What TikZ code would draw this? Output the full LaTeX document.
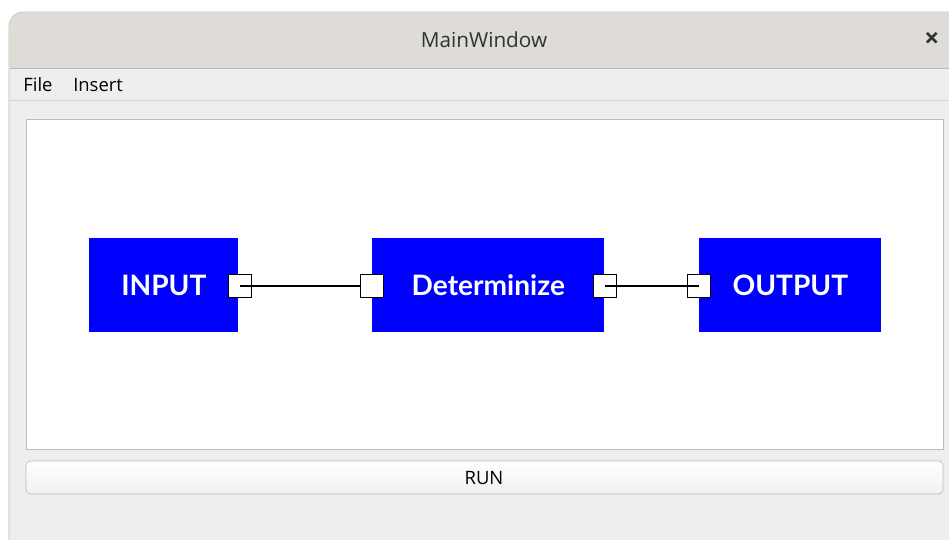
\documentclass[tikz,border=0pt]{standalone}
\usepackage{fontspec}
\setmainfont{Open Sans}
\newfontfamily\blockfont{Lato}
\usetikzlibrary{positioning}

\definecolor{titlegray}{HTML}{DFDBD7}
\definecolor{framegray}{HTML}{BDB9B5}
\definecolor{bodygray}{HTML}{EEEEEE}
\definecolor{linegray}{HTML}{D3D3D3}
\definecolor{canvasline}{HTML}{BBBBBB}
\definecolor{blockblue}{HTML}{0000FF}
\definecolor{textgray}{HTML}{2E3436}

\begin{document}
\begin{tikzpicture} [
  x=0.02cm, y=-0.02cm,
  block/.style={fill=blockblue,text=white,font=\blockfont\fontsize{16}{18}\selectfont\bfseries,
    minimum height=94*0.02cm,inner sep=0},
  port/.style={draw=black,fill=white,line width=0.8pt,minimum size=23*0.02cm,inner sep=0},
  menuitem/.style={font=\fontsize{10.5}{12}\selectfont,text=black,inner sep=0}
  ]
  \path[use as bounding box,clip] (0,0) rectangle (949,540);
  \fill[white] (0,0) rectangle (949,540);

  % window
  \draw[framegray,fill=bodygray,rounded corners=8pt] (9,600) -- (9,12) -- (1000,12) -- (1000,600);
  \begin{scope}
    \clip[rounded corners=8pt] (9.5,600) -- (9.5,12.5) -- (1000,12.5) -- (1000,600);
    \fill[titlegray] (9,12) rectangle (949,68);
  \end{scope}
  \draw[framegray] (9.5,68) -- (949,68);
  \draw[linegray] (9.5,100) -- (949,100);

  \node (title) [font=\fontsize{11.8}{13}\selectfont,text=textgray] at (484,40) {MainWindow};
  \node (close) [font=\fontsize{15}{16}\selectfont\bfseries,text=textgray] at (932,40) {×};
  \node (file) [menuitem,anchor=west] at (23,85) {File};
  \node (insert) [menuitem,right=20*0.02cm of file] {Insert};

  % canvas
  \node (canvas) [draw=canvasline,fill=white,minimum width=917*0.02cm,minimum height=330*0.02cm,
    inner sep=0,anchor=north west] at (26,119) {};

  % blocks
  \node (input) [block,minimum width=149*0.02cm,anchor=north west] at (89,238) {INPUT};
  \node (det) [block,minimum width=232*0.02cm,anchor=north west] at (372,238) {Determinize};
  \node (output) [block,minimum width=182*0.02cm,anchor=north west] at (699,238) {OUTPUT};

  % ports
  \node (inputout) [port] at (240,286) {};
  \node (detin) [port] at (372,286) {};
  \node (detout) [port] at (605,286) {};
  \node (outputin) [port] at (699,286) {};

  \draw[line width=0.7pt] (inputout.center) -- (detin.west);
  \draw[line width=0.7pt] (detout.center) -- (outputin.center);

  % run button
  \shade[top color=white,bottom color=bodygray!85!white,draw=canvasline,rounded corners=2.5pt]
    (26,461) rectangle (943,494);
  \node (run) [font=\fontsize{10.5}{12}\selectfont,text=black] at (484,478) {RUN};
\end{tikzpicture}
\end{document}
